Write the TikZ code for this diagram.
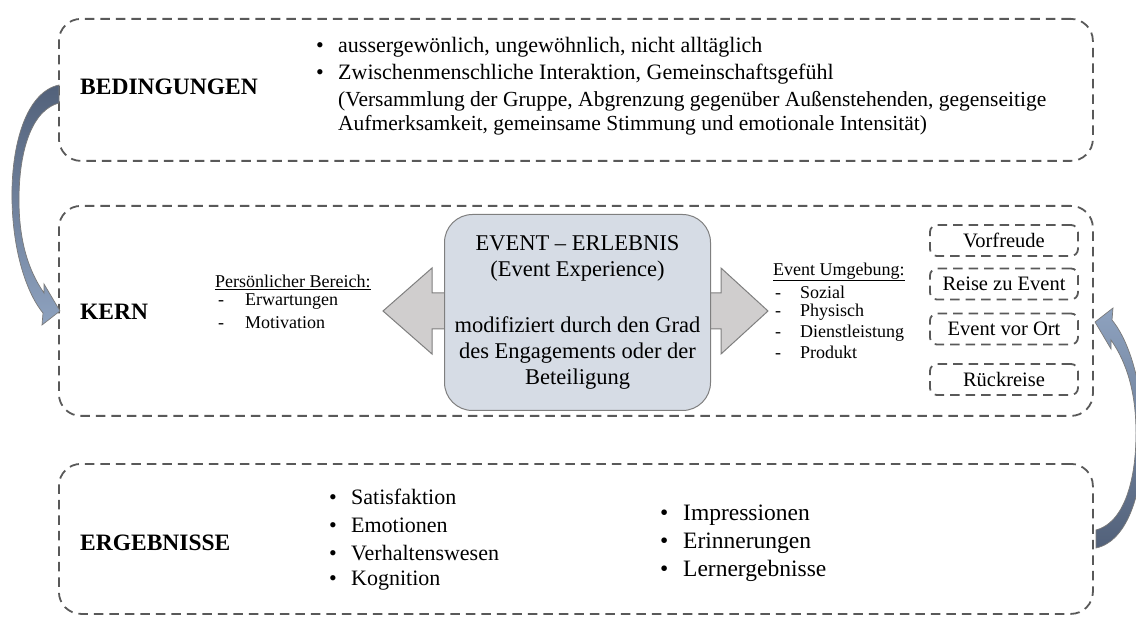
\documentclass[tikz,border=0pt]{standalone}
\usepackage{fontspec}
\setmainfont{Liberation Serif}
\definecolor{dgray}{HTML}{595959}
\definecolor{evfill}{HTML}{D6DCE5}
\definecolor{evdraw}{HTML}{7F7F7F}
\definecolor{arfill}{HTML}{D0CECE}
\definecolor{adark}{HTML}{52617A}
\definecolor{alight}{HTML}{8EA2BF}
\newcommand{\dgbul}{\makebox[22pt][l]{\textbullet}}
\newcommand{\dgbulb}{\makebox[23pt][l]{\textbullet}}
\newcommand{\dgdash}{\makebox[27pt][l]{-}}
\newcommand{\dgdashb}{\makebox[25pt][l]{-}}
\begin{document}
\begin{tikzpicture}[x=1pt,y=-1pt,
  dbox/.style={draw=dgray, line width=1.8pt, dash pattern=on 9.5pt off 6pt, rounded corners=22pt, anchor=north west, inner sep=0pt},
  phbox/.style={draw=dgray, line width=1.8pt, dash pattern=on 9.5pt off 6pt, rounded corners=7pt, minimum width=148pt, minimum height=31pt, inner sep=0pt, font=\fontsize{20.5}{24}\selectfont},
  lab/.style={anchor=west, inner sep=0pt, font=\fontsize{23.5}{28}\selectfont\bfseries},
  mtxt/.style={anchor=west, inner sep=0pt, font=\fontsize{22}{27}\selectfont},
  rtxt/.style={anchor=west, inner sep=0pt, font=\fontsize{23.5}{28}\selectfont},
  stxt/.style={anchor=west, inner sep=0pt, font=\fontsize{21.5}{24}\selectfont},
  ctxt/.style={anchor=west, inner sep=0pt, font=\fontsize{18}{21}\selectfont},
  evbox/.style={draw=evdraw, fill=evfill, line width=1pt, rounded corners=28pt, anchor=north west, inner sep=0pt, align=center, font=\fontsize{22.5}{26}\selectfont},
  blockarrow/.style={draw=evdraw, fill=arfill, line width=1pt},
  curvearrow/.style={draw=dgray!80, line width=0.7pt}
]
\useasboundingbox (0,0) rectangle (1136,620);
\clip (0,0) rectangle (1136,620);

% main dashed boxes
\node[dbox, minimum width=1034pt, minimum height=142pt] (bed) at (58,18) {};
\node[dbox, minimum width=1034pt, minimum height=210pt] (kern) at (58,205) {};
\node[dbox, minimum width=1034pt, minimum height=150pt] (erg) at (58,463) {};

% labels
\node[lab] (lbed) at (80,87) {BEDINGUNGEN};
\node[lab] (lkern) at (80,312) {KERN};
\node[lab] (lerg) at (80,543) {ERGEBNISSE};

% top texts
\node[mtxt] (t1) at (316,47) {\dgbul aussergewönlich, ungewöhnlich, nicht alltäglich};
\node[mtxt] (t2) at (316,74) {\dgbul Zwischenmenschliche Interaktion, Gemeinschaftsgefühl};
\node[stxt] (t3) at (338,101) {(Versammlung der Gruppe, Abgrenzung gegenüber Außenstehenden, gegenseitige};
\node[stxt] (t4) at (338,125) {Aufmerksamkeit, gemeinsame Stimmung und emotionale Intensität)};

% block arrows
\draw[blockarrow] (383,311) -- (432,268) -- (432,293) -- (452,293) -- (452,329) -- (432,329) -- (432,354) -- cycle;
\draw[blockarrow] (768,311) -- (721,268) -- (721,293) -- (702,293) -- (702,329) -- (721,329) -- (721,354) -- cycle;

% event box
\node[evbox, minimum width=266pt, minimum height=196pt] (ev) at (444,214)
  {EVENT – ERLEBNIS\\(Event Experience)\\[30pt]modifiziert durch den Grad\\des Engagements oder der\\Beteiligung};

% left list
\node[ctxt] (pb) at (215,282) {\underline{Persönlicher Bereich:}};
\node[ctxt] (pb1) at (218,302) {\dgdash Erwartungen};
\node[ctxt] (pb2) at (218,323) {\dgdash Motivation};

% right list
\node[ctxt] (eu) at (773,272) {\underline{Event Umgebung:}};
\node[ctxt] (eu1) at (775,292) {\dgdashb Sozial};
\node[ctxt] (eu2) at (775,312) {\dgdashb Physisch};
\node[ctxt] (eu3) at (775,333) {\dgdashb Dienstleistung};
\node[ctxt] (eu4) at (775,352) {\dgdashb Produkt};

% phases
\node[phbox] (p1) at (1004,240.5) {Vorfreude};
\node[phbox] (p2) at (1004,284) {Reise zu Event};
\node[phbox] (p3) at (1004,329) {Event vor Ort};
\node[phbox] (p4) at (1004,379.5) {Rückreise};

% bottom lists
\node[mtxt] (e1) at (329,497) {\dgbul Satisfaktion};
\node[mtxt] (e2) at (329,525) {\dgbul Emotionen};
\node[mtxt] (e3) at (329,553) {\dgbul Verhaltenswesen};
\node[mtxt] (e4) at (329,581) {\dgbul Kognition};
\node[rtxt] (f1) at (660,515) {\dgbulb Impressionen};
\node[rtxt] (f2) at (660,543) {\dgbulb Erinnerungen};
\node[rtxt] (f3) at (660,571) {\dgbulb Lernergebnisse};

% curved arrows
\draw[curvearrow, top color=adark, bottom color=alight]
  (59,85) .. controls (26,92) and (11,145) .. (12,200)
  .. controls (13,255) and (28,295) .. (43,313)
  -- (42,325) -- (60,311) -- (44,284) -- (44,293)
  .. controls (28,270) and (19,240) .. (19,200)
  .. controls (19,150) and (32,110) .. (59,103) -- cycle;
\begin{scope}[rotate around={180:(577.5,316.5)}]
\draw[curvearrow, top color=alight, bottom color=adark]
  (59,85) .. controls (26,92) and (11,145) .. (12,200)
  .. controls (13,255) and (28,295) .. (43,313)
  -- (42,325) -- (60,311) -- (44,284) -- (44,293)
  .. controls (28,270) and (19,240) .. (19,200)
  .. controls (19,150) and (32,110) .. (59,103) -- cycle;
\end{scope}
\end{tikzpicture}
\end{document}
